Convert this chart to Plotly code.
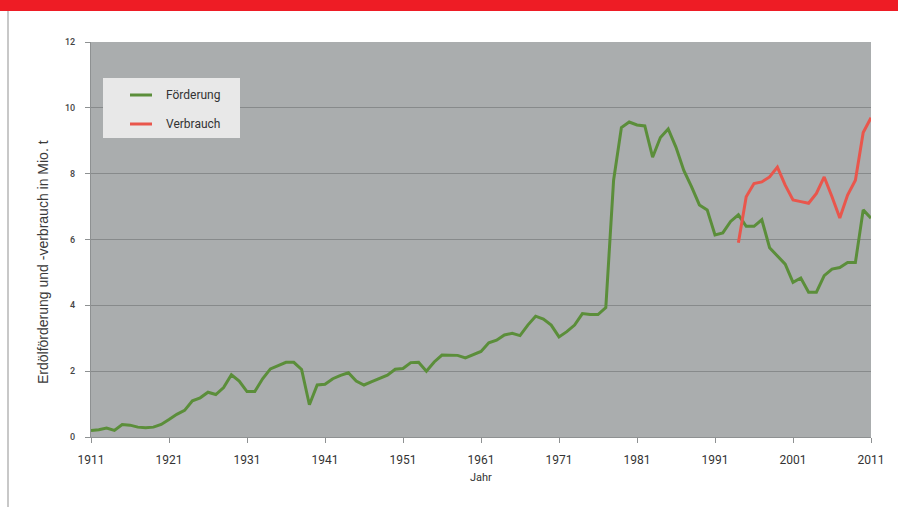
import plotly.graph_objects as go

years_prod = list(range(1911, 2012))
foerderung = [
    0.2, 0.22, 0.27, 0.2, 0.38, 0.36, 0.3, 0.28, 0.3, 0.38,   # 1911-1920
    0.53, 0.69, 0.81, 1.1, 1.19, 1.36, 1.29, 1.5, 1.89, 1.7,  # 1921-1930
    1.38, 1.38, 1.77, 2.07, 2.17, 2.27, 2.27, 2.05, 0.98, 1.58,  # 1931-1940
    1.6, 1.77, 1.87, 1.95, 1.7, 1.58, 1.68, 1.78, 1.88, 2.06,  # 1941-1950
    2.08, 2.26, 2.27, 2.0, 2.28, 2.49, 2.49, 2.48, 2.4, 2.5,   # 1951-1960
    2.6, 2.86, 2.94, 3.1, 3.15, 3.08, 3.4, 3.67, 3.58, 3.4,    # 1961-1970
    3.04, 3.2, 3.4, 3.75, 3.72, 3.72, 3.93, 7.8, 9.4, 9.57,    # 1971-1980
    9.48, 9.45, 8.5, 9.1, 9.36, 8.8, 8.1, 7.6, 7.05, 6.9,     # 1981-1990
    6.14, 6.2, 6.55, 6.75, 6.4, 6.4, 6.6, 5.75, 5.5, 5.25,    # 1991-2000
    4.7, 4.83, 4.4, 4.4, 4.9, 5.1, 5.15, 5.3, 5.3, 6.9,       # 2001-2010
    6.65,                                                     # 2011
]

years_cons = list(range(1994, 2012))
verbrauch = [
    5.9, 7.3, 7.7, 7.75, 7.9, 8.2, 7.65, 7.2, 7.15, 7.1,
    7.4, 7.9, 7.3, 6.65, 7.35, 7.8, 9.25, 9.7,
]

x_ticks = [1911, 1921, 1931, 1941, 1951, 1961, 1971, 1981, 1991, 2001, 2011]
y_ticks = [0, 2, 4, 6, 8, 10, 12]

green = "#5b8e3a"
red = "#e9564c"
font_family = "Roboto, Liberation Sans, sans-serif"
title_family = "Liberation Sans, Arial, sans-serif"

fig = go.Figure()
fig.add_trace(go.Scatter(x=years_prod, y=foerderung, mode="lines", name="Förderung",
                         line=dict(color=green, width=3), showlegend=False))
fig.add_trace(go.Scatter(x=years_cons, y=verbrauch, mode="lines", name="Verbrauch",
                         line=dict(color=red, width=3), showlegend=False))

W, H = 898, 507
ml, mr, mt, mb = 91, 27, 42, 70
pw, ph = W - ml - mr, H - mt - mb

def px(xpix):
    return (xpix - ml) / pw

def py(ypix):
    return (H - mb - ypix) / ph

shapes = [
    # red header bar
    dict(type="rect", xref="paper", yref="paper", x0=px(0), x1=px(W), y0=py(11), y1=py(0),
         fillcolor="#ee1c25", line=dict(width=0), layer="above"),
    # left grey rule
    dict(type="line", xref="paper", yref="paper", x0=px(8), x1=px(8), y0=py(H), y1=py(11),
         line=dict(color="#c8c8c8", width=2)),
    # legend box
    dict(type="rect", xref="paper", yref="paper", x0=px(103), x1=px(240), y0=py(138), y1=py(78),
         fillcolor="#e8e8e8", line=dict(width=0), layer="above"),
    dict(type="line", xref="paper", yref="paper", x0=px(130), x1=px(152), y0=py(95), y1=py(95),
         line=dict(color=green, width=3), layer="above"),
    dict(type="line", xref="paper", yref="paper", x0=px(130), x1=px(152), y0=py(124), y1=py(124),
         line=dict(color=red, width=3), layer="above"),
]

annotations = [
    dict(text="Förderung", xref="paper", yref="paper", x=px(164), y=py(95), xanchor="left",
         yanchor="middle", showarrow=False, font=dict(size=12, color="#333", family=font_family)),
    dict(text="Verbrauch", xref="paper", yref="paper", x=px(164), y=py(124), xanchor="left",
         yanchor="middle", showarrow=False, font=dict(size=12, color="#333", family=font_family)),
    dict(text="Erdölförderung und -verbrauch in Mio. t", xref="paper", yref="paper",
         x=px(43), y=py(262), xanchor="center", yanchor="middle", textangle=-90,
         showarrow=False, font=dict(size=14, color="#3a3a3a", family=title_family)),
    dict(text="Jahr", xref="paper", yref="paper", x=px(481), y=py(477), xanchor="center",
         yanchor="middle", showarrow=False, font=dict(size=11, color="#333", family=font_family)),
]

fig.update_layout(
    width=W, height=H,
    margin=dict(l=ml, r=mr, t=mt, b=mb),
    paper_bgcolor="white",
    plot_bgcolor="#aaadae",
    font=dict(family=font_family, color="#333"),
    shapes=shapes,
    annotations=annotations,
    showlegend=False,
)
fig.update_xaxes(
    range=[1911, 2011], tickmode="array", tickvals=x_ticks, ticktext=[str(v) for v in x_ticks],
    showgrid=False, zeroline=False, showline=True, linecolor="#8e9192", linewidth=1,
    ticks="outside", ticklen=5, tickcolor="#8e9192", tickfont=dict(size=12, color="#333"),
    ticklabelstandoff=7,
)
fig.update_yaxes(
    range=[0, 12], tickmode="array", tickvals=y_ticks, ticktext=[str(v) for v in y_ticks],
    showgrid=True, gridcolor="#878a8b", gridwidth=1, zeroline=False,
    showline=True, linecolor="#8e9192", linewidth=1,
    ticks="outside", ticklen=5, tickcolor="#8e9192",
    tickfont=dict(size=9, color="#444", family="Roboto Medium, Roboto, sans-serif"),
    ticklabelstandoff=8,
)

fig.write_html("out.html")
